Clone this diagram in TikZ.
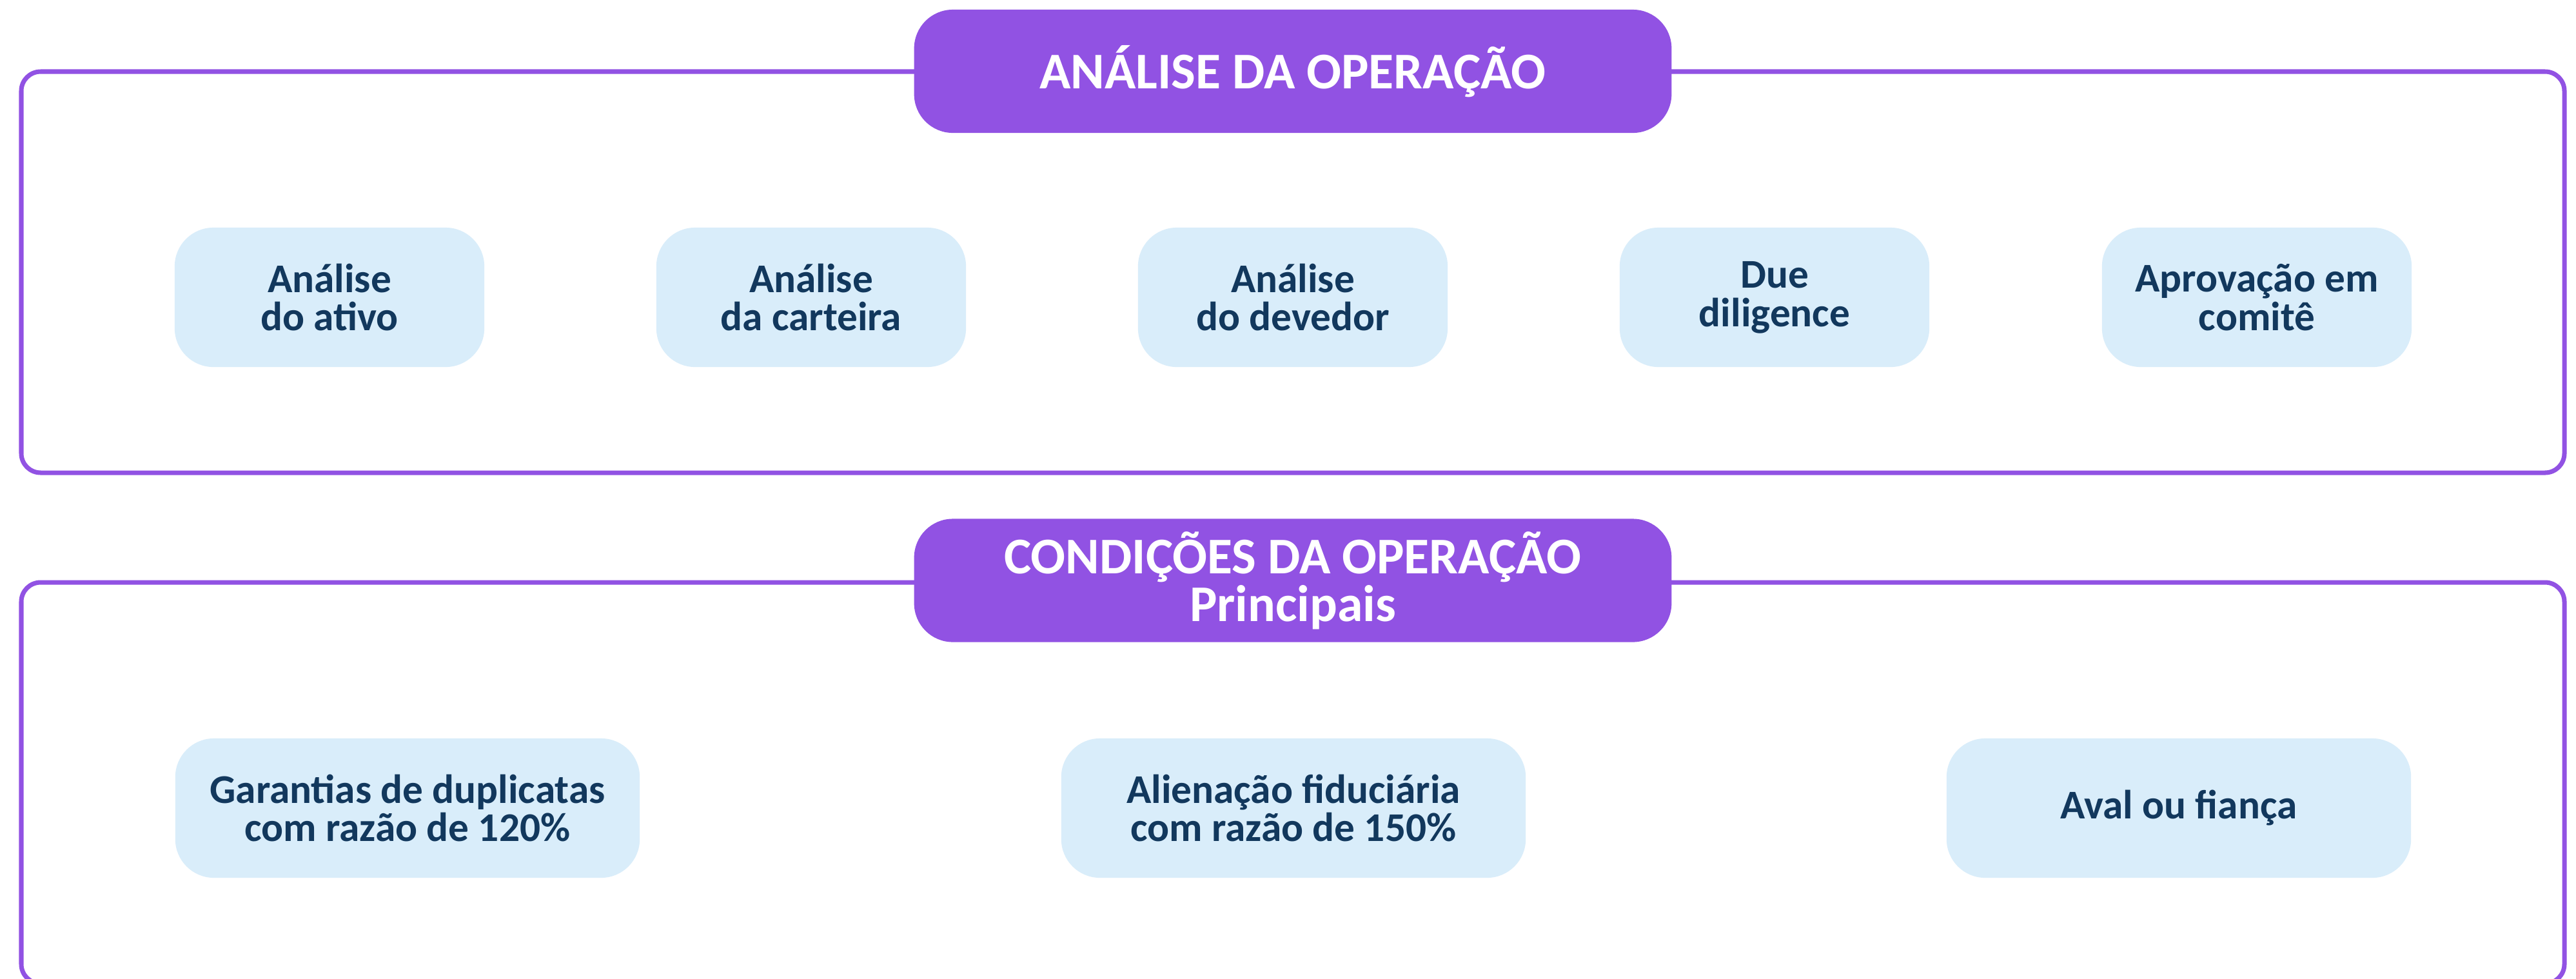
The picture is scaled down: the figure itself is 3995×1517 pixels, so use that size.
\documentclass[tikz,border=0pt]{standalone}
\usepackage{fontspec}
\setmainfont{Carlito}
\definecolor{purp}{HTML}{9152E3}
\definecolor{lblue}{HTML}{D9EDFA}
\definecolor{navy}{HTML}{12385D}
\tikzset{
  frame/.style={draw=purp, line width=2pt, rounded corners=0.3cm},
  header/.style={fill=purp, rounded corners=0.6cm, minimum width=11.74cm, minimum height=1.91cm,
    text=white, font=\bfseries\fontsize{22.7}{21}\selectfont, align=center, inner sep=0pt},
  item/.style={fill=lblue, rounded corners=0.6cm, minimum height=2.16cm,
    text=navy, font=\bfseries\fontsize{18}{17}\selectfont, align=center, inner sep=0pt},
  small/.style={item, minimum width=4.8cm},
  wide/.style={item, minimum width=7.2cm}
}
\begin{document}
\begin{tikzpicture}[x=0.01cm,y=-0.01cm]
\useasboundingbox (0,0) rectangle (3995,1517);
\clip (0,0) rectangle (3995,1517);
\fill[white] (0,0) rectangle (3995,1517);
% frames
\draw[frame] (33,111) rectangle (3977,733);
\draw[frame] (33,903) rectangle (3977,1525);
% headers
\node[header] (h1) at (2005,110.5) {ANÁLISE DA OPERAÇÃO};
\node[header] (h2) at (2005,900) {CONDIÇÕES DA OPERAÇÃO\\Principais};
% row 1
\node[small] (a1) at (511,461) {Análise\\do ativo};
\node[small] (a2) at (1258,461) {Análise\\da carteira};
\node[small] (a3) at (2005,461) {Análise\\do devedor};
\node[small] (a4) at (2752,461) {Due\\diligence};
\node[small] (a5) at (3500,461) {Aprovação em\\comitê};
% row 2
\node[wide] (b1) at (632,1253) {Garantias de duplicatas\\com razão de 120\%};
\node[wide] (b2) at (2006,1253) {Alienação fiduciária\\com razão de 150\%};
\node[wide] (b3) at (3379,1253) {Aval ou fiança};
\end{tikzpicture}
\end{document}
